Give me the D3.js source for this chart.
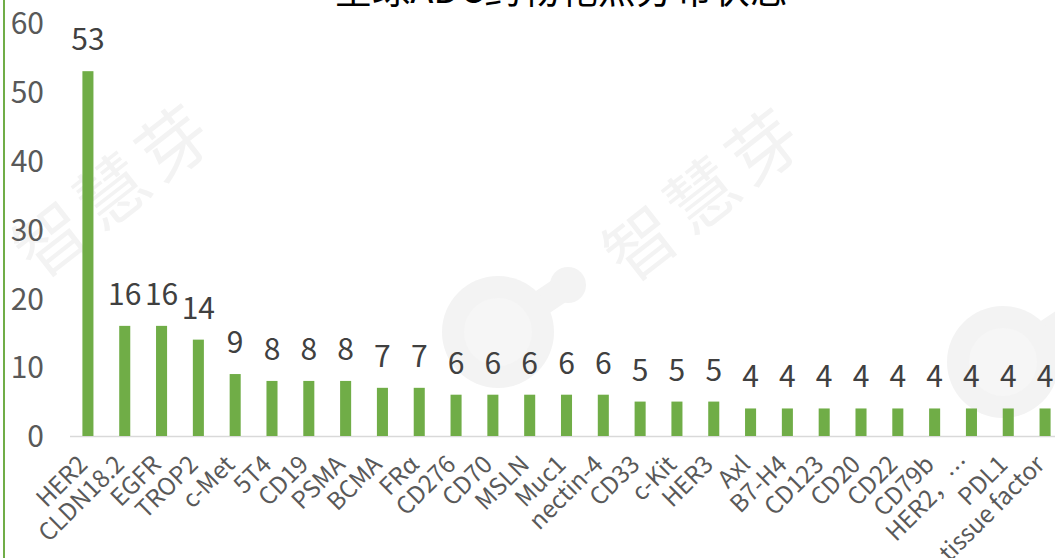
<!DOCTYPE html>
<html lang="zh">
<head>
  <meta charset="UTF-8" />
  <title>全球ADC药物靶点分布状态</title>
  <style>
  body { margin: 0; background: #fff; }
  svg text { font-family: "Noto Sans CJK SC", "Noto Sans", sans-serif; }
  .ytick text { fill: #595959; font-size: 30px; }
  .xtick text { fill: #595959; font-size: 24px; }
  .val { fill: #404040; font-size: 30px; }
  </style>
</head>
<body>
  <script src="https://cdn.jsdelivr.net/npm/d3@7"></script>
  <script>
  // data
  var categories = ["HER2", "CLDN18.2", "EGFR", "TROP2", "c-Met", "5T4", "CD19", "PSMA", "BCMA", "FRα",
    "CD276", "CD70", "MSLN", "Muc1", "nectin-4", "CD33", "c-Kit", "HER3", "Axl", "B7-H4",
    "CD123", "CD20", "CD22", "CD79b", "HER2，…", "PDL1", "tissue factor"];
  var counts = [53, 16, 16, 14, 9, 8, 8, 8, 7, 7, 6, 6, 6, 6, 6, 5, 5, 5, 4, 4, 4, 4, 4, 4, 4, 4, 4];
  var yTicks = [0, 10, 20, 30, 40, 50, 60];
  var title = "全球ADC药物靶点分布状态";
  var watermark = "智慧芽";

  var w = 1055, h = 558;
  var green = "#70AD47";

  var data = categories.map(function(c, i) { return {name: c, value: counts[i]}; });

  var svg = d3.select("body").append("svg")
    .attr("width", w)
    .attr("height", h);

  // faint watermark
  var wm = svg.append("g").attr("fill", "#f3f3f3");
  [[116, 190], [706, 194]].forEach(function(p) {
    wm.append("text")
      .attr("transform", "translate(" + p[0] + "," + p[1] + ") rotate(-38)")
      .attr("text-anchor", "middle")
      .attr("dy", "0.35em")
      .attr("font-size", 70)
      .attr("letter-spacing", 8)
      .text(watermark);
  });
  [[498, 332, 568, 285], [1003, 362, 1073, 315]].forEach(function(p) {
    wm.append("line").attr("x1", p[0]).attr("y1", p[1]).attr("x2", p[2]).attr("y2", p[3])
      .attr("stroke", "#f3f3f3").attr("stroke-width", 26);
    wm.append("circle").attr("cx", p[0]).attr("cy", p[1]).attr("r", 56);
    wm.append("circle").attr("cx", p[2]).attr("cy", p[3]).attr("r", 18);
    wm.append("circle").attr("cx", p[0]).attr("cy", p[1]).attr("r", 34).attr("fill", "#f6f6f6");
  });

  var x = d3.scaleBand().domain(categories).range([64, 1069]).paddingInner(0.7).paddingOuter(0.5);
  var y = d3.scaleLinear().domain([0, 60]).range([436, 23]);

  // title, cut off at the top as in the source
  svg.append("text")
    .attr("x", 561)
    .attr("y", 3)
    .attr("text-anchor", "middle")
    .attr("font-size", 38)
    .attr("fill", "#000")
    .text(title);

  // left frame line
  svg.append("line")
    .attr("x1", 4).attr("x2", 4).attr("y1", 0).attr("y2", h)
    .attr("stroke", green).attr("stroke-width", 2);

  // y axis labels
  var ya = svg.append("g")
    .attr("class", "ytick")
    .attr("transform", "translate(44,0)")
    .call(d3.axisLeft(y).tickValues(yTicks).tickSize(0).tickPadding(0));
  ya.attr("font-family", null).attr("font-size", null);
  ya.select(".domain").remove();
  ya.selectAll("text").attr("dy", "0.36em");

  // baseline
  svg.append("line")
    .attr("x1", 70).attr("x2", w).attr("y1", y(0) + 0.5).attr("y2", y(0) + 0.5)
    .attr("stroke", "#d9d9d9").attr("stroke-width", 1.5);

  // bars
  svg.selectAll("rect.bar")
    .data(data)
    .enter()
    .append("rect")
    .attr("class", "bar")
    .attr("x", function(d) { return x(d.name); })
    .attr("y", function(d) { return y(d.value); })
    .attr("width", x.bandwidth())
    .attr("height", function(d) { return y(0) - y(d.value); })
    .attr("fill", green);

  // value labels
  svg.selectAll("text.val")
    .data(data)
    .enter()
    .append("text")
    .attr("class", "val")
    .attr("x", function(d) { return x(d.name) + x.bandwidth() / 2; })
    .attr("y", function(d) { return y(d.value) - 21; })
    .attr("text-anchor", "middle")
    .text(function(d) { return d.value; });

  // x labels, rotated
  var xa = svg.append("g")
    .attr("class", "xtick")
    .attr("transform", "translate(0," + y(0) + ")")
    .call(d3.axisBottom(x).tickSize(0).tickPadding(0));
  xa.attr("font-family", null).attr("font-size", null);
  xa.select(".domain").remove();
  xa.selectAll("text")
    .attr("text-anchor", "end")
    .attr("dy", 0)
    .attr("y", 0)
    .attr("transform", "translate(1,30) rotate(-45)");
  </script>
</body>
</html>
